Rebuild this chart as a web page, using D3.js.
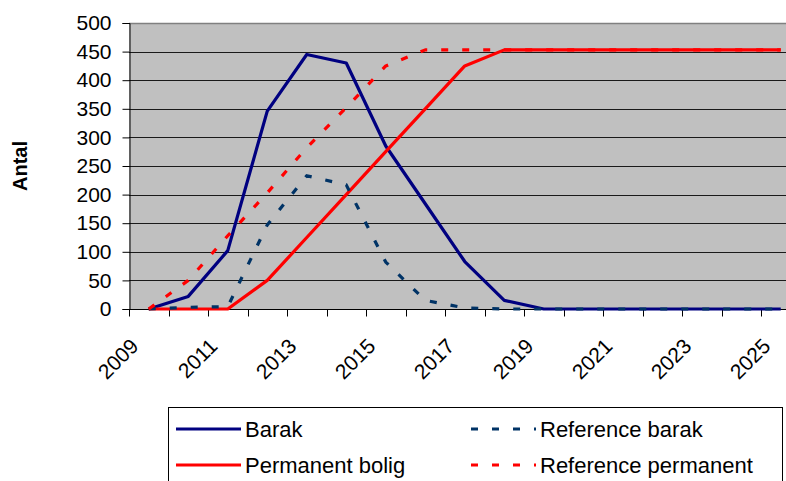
<!DOCTYPE html>
<html>
<head>
<meta charset="utf-8">
<script src="https://cdn.jsdelivr.net/npm/d3@7"></script>
<style>
  html, body { margin: 0; padding: 0; background: #fff; }
  svg { display: block; font-family: "Liberation Sans", Arial, sans-serif; }
</style>
</head>
<body>
<svg id="chart" width="786" height="481"></svg>
<script>
// Years on the category axis
const years = [2009, 2010, 2011, 2012, 2013, 2014, 2015, 2016, 2017,
               2018, 2019, 2020, 2021, 2022, 2023, 2024, 2025];
// Labels shown on the x axis (every second year)
const yearLabels = [2009, 2011, 2013, 2015, 2017, 2019, 2021, 2023, 2025];
// Y axis tick values
const yTicks = [0, 50, 100, 150, 200, 250, 300, 350, 400, 450, 500];

// Series values per year
const barak = [0, 22, 102, 346, 445, 430, 285, 184, 83, 15, 0, 0, 0, 0, 0, 0, 0];
const permanentBolig = [0, 0, 0, 50, 125, 200, 275, 350, 425, 453, 453, 453, 453, 453, 453, 453, 453];
const referenceBarak = [0, 3, 4, 147, 233, 217, 82, 15, 2, 0, 0, 0, 0, 0, 0, 0, 0];
const referencePermanent = [0, 50, 128, 203, 282, 352, 425, 453, 453, 453, 453, 453, 453, 453, 453, 453, 453];

const seriesNames = ["Barak", "Permanent bolig", "Reference barak", "Reference permanent"];

const svg = d3.select("#chart");

const plot = { left: 129, top: 23, bottom: 309, step: 39.5 };
plot.right = plot.left + plot.step * years.length;

const x = d3.scaleBand().domain(years).range([plot.left, plot.right]).padding(0);
const y = d3.scaleLinear().domain([0, 500]).range([plot.bottom, plot.top]);
const cx = yr => x(yr) + x.bandwidth() / 2;

// Plot area background
svg.append("rect")
  .attr("x", plot.left).attr("y", plot.top)
  .attr("width", plot.right - plot.left).attr("height", plot.bottom - plot.top)
  .attr("fill", "#c0c0c0");

// Horizontal gridlines
svg.append("g").selectAll("line")
  .data(yTicks.filter(t => t > 0 && t < 500))
  .join("line")
  .attr("x1", plot.left).attr("x2", plot.right)
  .attr("y1", d => Math.round(y(d)) + 0.5).attr("y2", d => Math.round(y(d)) + 0.5)
  .attr("stroke", "#1a1a1a").attr("stroke-width", 1);

// Top border of plot area
svg.append("line")
  .attr("x1", plot.left).attr("x2", plot.right)
  .attr("y1", Math.round(y(500)) + 0.5).attr("y2", Math.round(y(500)) + 0.5)
  .attr("stroke", "#808080").attr("stroke-width", 1.5);

// Y axis
const yAxis = d3.axisLeft(y).tickValues(yTicks).tickSize(7).tickPadding(11);
const gy = svg.append("g")
  .attr("transform", `translate(${plot.left + 0.5},0)`)
  .call(yAxis);
gy.select(".domain").attr("stroke", "#000");
gy.selectAll(".tick line").attr("stroke", "#000");
gy.selectAll(".tick text")
  .attr("font-size", 21).attr("fill", "#000")
  .attr("font-family", "Liberation Sans, Arial, sans-serif");

// X axis: ticks at category boundaries, labels rotated
const gx = svg.append("g")
  .attr("transform", `translate(0,${plot.bottom + 0.5})`);
gx.append("line")
  .attr("x1", plot.left).attr("x2", plot.right)
  .attr("stroke", "#000");
gx.selectAll("line.tk")
  .data(years)
  .join("line").attr("class", "tk")
  .attr("x1", d => Math.round(x(d)) + 0.5).attr("x2", d => Math.round(x(d)) + 0.5)
  .attr("y1", 0).attr("y2", 7)
  .attr("stroke", "#000");
gx.selectAll("text")
  .data(yearLabels)
  .join("text")
  .attr("transform", d => `translate(${cx(d) - 9},${38}) rotate(-45)`)
  .attr("text-anchor", "end")
  .attr("font-size", 21)
  .attr("fill", "#000")
  .text(d => d);

// Y axis title
svg.append("text")
  .attr("transform", `translate(27,166) rotate(-90)`)
  .attr("text-anchor", "middle")
  .attr("font-size", 20).attr("font-weight", "bold")
  .text("Antal");

// Series lines
const seriesStyles = [
  { name: seriesNames[0], values: barak, color: "#000080", dash: null },
  { name: seriesNames[1], values: permanentBolig, color: "#ff0000", dash: null },
  { name: seriesNames[2], values: referenceBarak, color: "#003366", dash: "7,14" },
  { name: seriesNames[3], values: referencePermanent, color: "#ff0000", dash: "7,14" }
];

const line = d3.line()
  .x((d, i) => cx(years[i]))
  .y(d => y(d));

svg.append("g").selectAll("path")
  .data(seriesStyles)
  .join("path")
  .attr("d", d => line(d.values))
  .attr("fill", "none")
  .attr("stroke", d => d.color)
  .attr("stroke-width", 3.2)
  .attr("stroke-linejoin", "round")
  .attr("stroke-dasharray", d => d.dash);

// Legend
const legend = svg.append("g");
legend.append("rect")
  .attr("x", 168.5).attr("y", 407.5)
  .attr("width", 614).attr("height", 90)
  .attr("fill", "#fff").attr("stroke", "#000").attr("stroke-width", 1);

const legendPos = [
  { x: 176, y: 429 }, { x: 176, y: 465 },
  { x: 471, y: 429 }, { x: 471, y: 465 }
];
const order = [0, 1, 2, 3];
order.forEach((si, k) => {
  const s = seriesStyles[si];
  const p = legendPos[k];
  legend.append("line")
    .attr("x1", p.x).attr("x2", p.x + 65)
    .attr("y1", p.y).attr("y2", p.y)
    .attr("stroke", s.color).attr("stroke-width", 3.2)
    .attr("stroke-dasharray", s.dash);
  legend.append("text")
    .attr("x", p.x + 69).attr("y", p.y)
    .attr("dy", "0.36em")
    .attr("font-size", 22)
    .attr("fill", "#000")
    .text(s.name);
});
</script>
</body>
</html>
